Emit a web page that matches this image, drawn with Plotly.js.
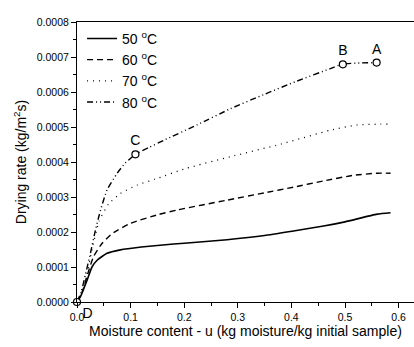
<!DOCTYPE html>
<html>
<head>
<meta charset="utf-8">
<script src="https://cdn.plot.ly/plotly-3.0.1.min.js"></script>
<style>html,body{margin:0;padding:0;background:#fff;}#chart{width:414px;height:347px;}</style>
</head>
<body>
<div id="chart"></div>
<script>
// Series data (moisture content u, drying rate kg/m2s)
const u50 = [0, 0.0065, 0.019, 0.028, 0.038, 0.056, 0.081, 0.12, 0.16, 0.2, 0.28, 0.35, 0.404, 0.46, 0.5, 0.56, 0.585];
const r50 = [0, 0.000015, 0.000063, 0.0001, 0.00012, 0.000139, 0.000149, 0.000157, 0.000163, 0.000168, 0.000178, 0.00019, 0.000203, 0.000217, 0.000229, 0.000251, 0.000255];

const u60 = [0, 0.01, 0.022, 0.031, 0.047, 0.066, 0.1, 0.15, 0.187, 0.28, 0.35, 0.404, 0.46, 0.516, 0.56, 0.585];
const r60 = [0, 0.00003, 0.00009, 0.00013, 0.000168, 0.000196, 0.000225, 0.000249, 0.000263, 0.000291, 0.000312, 0.000328, 0.000346, 0.000362, 0.000368, 0.000368];

const u70 = [0, 0.01, 0.019, 0.028, 0.041, 0.059, 0.081, 0.112, 0.146, 0.202, 0.286, 0.38, 0.473, 0.523, 0.566, 0.58];
const r70 = [0, 0.00003, 0.00008, 0.00015, 0.00023, 0.00028, 0.00031, 0.000334, 0.000351, 0.000381, 0.000415, 0.000451, 0.000491, 0.000506, 0.000508, 0.000508];

const u80 = [0, 0.008, 0.016, 0.025, 0.0345, 0.044, 0.056, 0.075, 0.09, 0.109, 0.135, 0.162, 0.224, 0.286, 0.349, 0.41, 0.473, 0.496, 0.53, 0.559];
const r80 = [0, 0.00003, 0.00008, 0.000139, 0.000206, 0.000263, 0.00032, 0.000368, 0.000397, 0.000422, 0.000442, 0.000462, 0.000506, 0.000552, 0.000593, 0.000631, 0.000667, 0.00068, 0.000683, 0.000684];

const seriesNames = ["50 <sup>o</sup>C", "60 <sup>o</sup>C", "70 <sup>o</sup>C", "80 <sup>o</sup>C"];

// Labelled points
const pointLabels = ["A", "B", "C", "D"];
const pointU = [0.559, 0.496, 0.109, 0];
const pointR = [0.000684, 0.000679, 0.000422, 0];

const xTickVals = [0, 0.1, 0.2, 0.3, 0.4, 0.5, 0.6];
const yTickVals = [0, 0.0001, 0.0002, 0.0003, 0.0004, 0.0005, 0.0006, 0.0007, 0.0008];

const FONT = "Liberation Sans, Arial, sans-serif";

const styles = [
  {width: 1.6, dash: "solid"},
  {width: 1.4, dash: "6px,4px"},
  {width: 1.3, dash: "1px,5px"},
  {width: 1.4, dash: "6px,3px,1px,3px,1px,3px"}
];
const xs = [u50, u60, u70, u80];
const ys = [r50, r60, r70, r80];

const traces = xs.map((x, i) => ({
  x: x, y: ys[i], type: "scatter", mode: "lines", name: seriesNames[i],
  line: {color: "#000", width: styles[i].width, dash: styles[i].dash, shape: "spline", smoothing: 0.5},
  cliponaxis: false
}));

// white fill under open markers
traces.push({
  x: pointU, y: pointR, type: "scatter", mode: "markers",
  marker: {symbol: "circle", size: 6, color: "#fff"},
  showlegend: false, cliponaxis: false, hoverinfo: "skip"
});
traces.push({
  x: pointU, y: pointR, type: "scatter", mode: "markers+text",
  text: pointLabels,
  textposition: pointLabels.map(l => l === "D" ? "bottom right" : "top center"),
  textfont: {family: FONT, size: 14, color: "#000"},
  marker: {symbol: "circle-open", size: 7, color: "#000", line: {width: 1.2, color: "#000"}},
  showlegend: false, cliponaxis: false, hoverinfo: "skip"
});

const layout = {
  width: 414, height: 347,
  margin: {l: 77, r: 0, t: 22, b: 45},
  paper_bgcolor: "#fff", plot_bgcolor: "#fff",
  font: {family: FONT, size: 10, color: "#000"},
  showlegend: true,
  legend: {x: 0.015, y: 0.997, xanchor: "left", yanchor: "top", bgcolor: "rgba(0,0,0,0)",
           font: {family: FONT, size: 14, color: "#000"}, tracegroupgap: 0, itemwidth: 30},
  xaxis: {
    range: [0, (414 - 77) / 536], showgrid: false, zeroline: false,
    showline: true, linecolor: "#000", linewidth: 1, mirror: true,
    ticks: "outside", ticklen: 5, tickcolor: "#000", tickwidth: 1,
    tickvals: xTickVals, tickformat: ".1f",
    minor: {ticks: "outside", ticklen: 3, dtick: 0.05, tickcolor: "#000", showgrid: false},
    tickfont: {family: FONT, size: 10.5},
    automargin: true,
    title: {text: "Moisture content - u (kg moisture/kg initial sample)", font: {family: FONT, size: 14}, standoff: 3}
  },
  yaxis: {
    range: [0, 0.0008], showgrid: false, zeroline: false,
    showline: true, linecolor: "#000", linewidth: 1, mirror: false,
    ticks: "outside", ticklen: 5, tickcolor: "#000", tickwidth: 1,
    tickvals: yTickVals, tickformat: ".4f",
    minor: {ticks: "outside", ticklen: 3, dtick: 0.00005, tickcolor: "#000", showgrid: false},
    tickfont: {family: FONT, size: 10.5},
    automargin: true,
    title: {text: "Drying rate (kg/m<sup>2</sup>s)", font: {family: FONT, size: 14}, standoff: 6}
  }
};

Plotly.newPlot("chart", traces, layout, {displayModeBar: false, staticPlot: true});
</script>
</body>
</html>
